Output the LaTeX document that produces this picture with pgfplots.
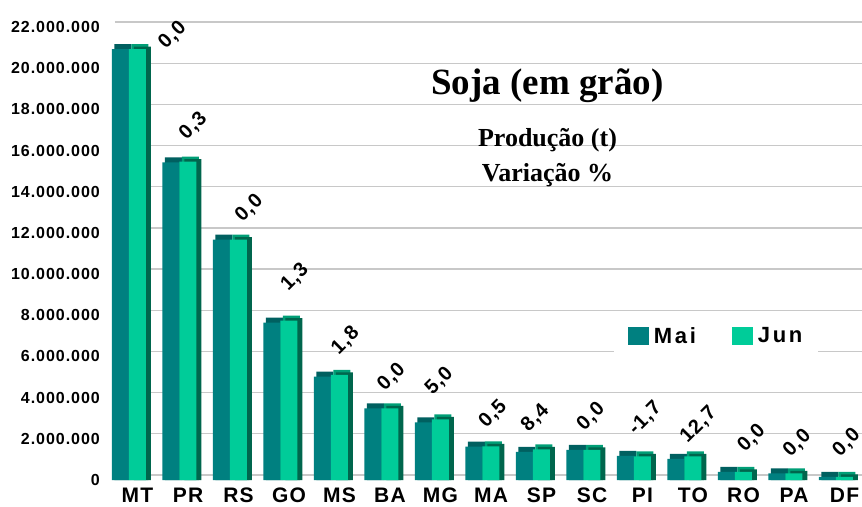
\documentclass[border=0pt]{standalone}
\usepackage{pgfplots}
\pgfplotsset{compat=1.18}
\usepackage{pgfplotstable}
\usepackage{fontspec}
\setmainfont{Liberation Serif}
\setsansfont{Liberation Sans}
\newfontfamily\tickfont{Liberation Sans}[LetterSpace=6]
\newfontfamily\catfont{Liberation Sans}[LetterSpace=6]
\newfontfamily\legfont{Liberation Sans}[LetterSpace=12]
\newfontfamily\labfont{Liberation Sans}[LetterSpace=5]

\definecolor{mai}{RGB}{0,128,128}
\definecolor{jun}{RGB}{0,204,153}
\definecolor{maiTop}{RGB}{0,96,96}
\definecolor{junTop}{RGB}{0,158,118}
\definecolor{junSide}{RGB}{0,102,77}
\definecolor{gridc}{RGB}{200,200,200}

% production in millions of tonnes
\pgfplotstableread{
x uf mai jun
0  MT 20.93 20.93
1  PR 15.42 15.46
2  RS 11.67 11.67
3  GO 7.64 7.74
4  MS 5.02 5.11
5  BA 3.48 3.48
6  MG 2.80 2.94
7  MA 1.62 1.63
8  SP 1.37 1.49
9  SC 1.46 1.46
10 PI 1.17 1.15
11 TO 1.02 1.15
12 RO 0.40 0.40
13 PA 0.32 0.32
14 DF 0.15 0.15
}\prodtab

% variation labels (position in axis units)
\pgfplotstableread{
lx ly lab
0.865  21.60 0,0
1.274  17.20 0,3
2.382  13.19 0,0
3.287  9.84  1,3
4.291  6.76  1,8
5.202  5.01  0,0
6.145  4.81  5,0
7.208  3.20  0,5
8.046  3.01  8,4
9.149  3.07  0,0
10.224 2.99  -1,7
11.281 2.67  12,7
12.331 2.02  0,0
13.234 1.78  0,0
14.212 1.81  0,0
}\labtab

\begin{document}
\begin{tikzpicture}
\useasboundingbox (0,0) rectangle (862pt,506pt);
\begin{axis}[
  at={(110pt,26pt)}, anchor=south west,
  scale only axis, width=752pt, height=453pt,
  xmin=-0.376, xmax=14.515, ymin=0, ymax=22,
  clip=false,
  axis line style={draw=none}, tick style={draw=none},
  xtick={0,1,2,3,4,5,6,7,8,9,10,11,12,13,14},
  xticklabels={MT,PR,RS,GO,MS,BA,MG,MA,SP,SC,PI,TO,RO,PA,DF},
  ytick={0,2,4,6,8,10,12,14,16,18,20,22},
  yticklabels={0,2.000.000,4.000.000,6.000.000,8.000.000,10.000.000,12.000.000,14.000.000,16.000.000,18.000.000,20.000.000,22.000.000},
  scaled y ticks=false,
  ymajorgrids,
  major grid style={draw=gridc, line width=1.2pt, yshift=5pt, xshift=5pt},
  yticklabel style={anchor=east, inner sep=0pt, xshift=-10pt, font=\tickfont\fontsize{16}{18}\selectfont\bfseries},
  xticklabel style={anchor=north, inner sep=0pt, yshift=-8pt, xshift=8.5pt, font=\catfont\fontsize{21}{22}\selectfont\bfseries},
  legend style={at={(axis description cs:0.806,0.318)}, anchor=center, draw=none, fill=white,
    inner xsep=14pt, inner ysep=7pt, legend columns=2,
    font=\legfont\fontsize{22}{24}\selectfont\bfseries,
    /tikz/every even column/.append style={column sep=34pt}},
]
% 3D top / side faces
\addplot[ybar, bar width=17pt, bar shift=-6pt, fill=maiTop, draw=none, forget plot]
  table[x=x, y expr=\thisrow{mai}+0.243] {\prodtab};
\addplot[ybar, bar width=17pt, bar shift=11pt, fill=junTop, draw=none, forget plot]
  table[x=x, y expr=\thisrow{jun}+0.243] {\prodtab};
\addplot[ybar, bar width=17pt, bar shift=13.5pt, fill=junSide, draw=none, forget plot]
  table[x=x, y expr=\thisrow{jun}+0.12] {\prodtab};
% front faces
\addplot[ybar, bar width=17pt, bar shift=-8.5pt, fill=mai, draw=none,
  legend image code/.code={\fill[mai] (0pt,-9pt) rectangle (21pt,9pt);}]
  table[x=x, y=mai] {\prodtab};
\addlegendentry{\hspace{3pt}Mai}
\addplot[ybar, bar width=17pt, bar shift=8.5pt, fill=jun, draw=none,
  legend image code/.code={\fill[jun] (0pt,-9pt) rectangle (21pt,9pt);}]
  table[x=x, y=jun] {\prodtab};
\addlegendentry{\hspace{3pt}Jun}
% variation labels
\addplot[draw=none, mark=none, forget plot, nodes near coords, point meta=explicit symbolic,
  every node near coord/.append style={rotate=45, anchor=center, inner sep=0pt, text=black,
    font=\labfont\fontsize{20}{22}\selectfont\bfseries}]
  table[x=lx, y=ly, meta=lab] {\labtab};
\end{axis}
\node[anchor=base, font=\fontsize{37}{40}\selectfont\bfseries] at (547.5pt,411pt) {Soja (em grão)};
\node[anchor=base, font=\fontsize{26}{28}\selectfont\bfseries] at (547.5pt,359.3pt) {Produção (t)};
\node[anchor=base, font=\fontsize{26}{28}\selectfont\bfseries] at (547.5pt,324.3pt) {Variação \%};
\end{tikzpicture}
\end{document}
